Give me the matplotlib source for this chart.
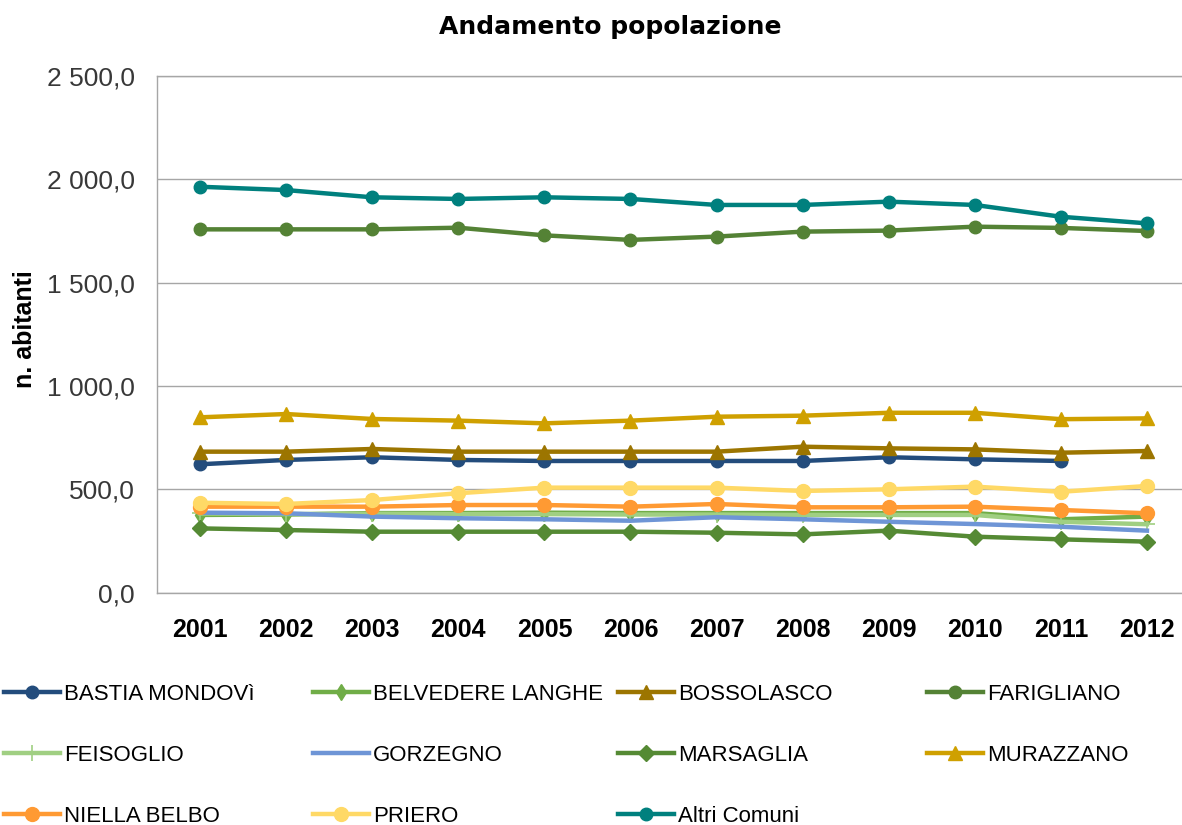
import numpy as np
import matplotlib
matplotlib.use("Agg")
import matplotlib.pyplot as plt

#----------------------------------------------------------
# Data
#----------------------------------------------------------
years = ["2001", "2002", "2003", "2004", "2005", "2006",
         "2007", "2008", "2009", "2010", "2011", "2012"]

bastia = [621, 642, 655, 642, 637, 637, 637, 637, 655, 645, 637, np.nan]
belvedere = [376, 378, 385, 385, 387, 385, 385, 385, 385, 385, 355, 368]
bossolasco = [682, 682, 695, 682, 682, 682, 682, 706, 698, 693, 677, 685]
farigliano = [1757, 1757, 1757, 1765, 1728, 1706, 1722, 1746, 1751, 1770, 1764, 1749]
feisoglio = [383, 380, 382, 380, 380, 378, 378, 376, 376, 376, 343, 331]
gorzegno = [387, 384, 368, 360, 355, 348, 365, 355, 343, 332, 319, 300]
marsaglia = [311, 303, 295, 295, 295, 295, 290, 282, 300, 271, 258, 247]
murazzano = [848, 864, 840, 832, 819, 832, 851, 856, 870, 870, 839, 843]
niella = [416, 416, 416, 424, 424, 416, 429, 413, 413, 416, 400, 384]
priero = [435, 429, 448, 481, 508, 508, 508, 492, 500, 513, 488, 516]
altri = [1963, 1947, 1912, 1904, 1912, 1904, 1875, 1875, 1891, 1875, 1818, 1786]

series_names = ["BASTIA MONDOVì", "BELVEDERE LANGHE", "BOSSOLASCO", "FARIGLIANO",
                "FEISOGLIO", "GORZEGNO", "MARSAGLIA", "MURAZZANO",
                "NIELLA BELBO", "PRIERO", "Altri Comuni"]
series_values = [bastia, belvedere, bossolasco, farigliano, feisoglio, gorzegno,
                 marsaglia, murazzano, niella, priero, altri]

y_ticks = [0, 500, 1000, 1500, 2000, 2500]
y_tick_labels = ["0,0", "500,0", "1 000,0", "1 500,0", "2 000,0", "2 500,0"]

#----------------------------------------------------------
# Styles
#----------------------------------------------------------
styles = {
    "BASTIA MONDOVì":   dict(color="#234C7C", marker="o", ms=9),
    "BELVEDERE LANGHE": dict(color="#70AD47", marker="d", ms=8),
    "BOSSOLASCO":       dict(color="#9C7500", marker="^", ms=10),
    "FARIGLIANO":       dict(color="#548235", marker="o", ms=9),
    "FEISOGLIO":        dict(color="#A0CF82", marker="+", ms=11),
    "GORZEGNO":         dict(color="#6E95D6", marker="", ms=0),
    "MARSAGLIA":        dict(color="#558A34", marker="D", ms=8),
    "MURAZZANO":        dict(color="#CFA000", marker="^", ms=10),
    "NIELLA BELBO":     dict(color="#FF9A33", marker="o", ms=10),
    "PRIERO":           dict(color="#FFD966", marker="o", ms=10),
    "Altri Comuni":     dict(color="#00807E", marker="o", ms=9),
}

plt.rcParams['font.family'] = ['Liberation Sans', 'DejaVu Sans']

W, H = 1182, 825
fig = plt.figure(figsize=(W / 100, H / 100), dpi=100)

ax = fig.add_axes([157 / W, 1 - 592.7 / H, 1033 / W, 517 / H])

x = np.arange(len(years))
handles = []
for name, vals in zip(series_names, series_values):
    st = styles[name]
    h, = ax.plot(x, vals, color=st["color"], lw=3.2, marker=st["marker"] or None,
                 markersize=st["ms"], markeredgewidth=1.2 if st["marker"] == "+" else 1,
                 markeredgecolor=st["color"], label=name, solid_joinstyle="round")
    handles.append(h)

ax.set_xlim(-0.5, len(years) - 0.5)
ax.set_ylim(0, 2500)
ax.set_yticks(y_ticks)
ax.set_yticklabels(y_tick_labels, fontsize=19, color="#383838")
ax.set_xticks(x)
ax.set_xticklabels(years, fontsize=18, fontweight="bold")
ax.tick_params(axis="both", length=0)
ax.tick_params(axis="y", pad=16)
ax.tick_params(axis="x", pad=18)

ax.grid(axis="y", color="#A6A6A6", lw=1.0)
ax.set_axisbelow(True)
for side in ["left", "top", "bottom"]:
    ax.spines[side].set_color("#A6A6A6")
    ax.spines[side].set_linewidth(1.0)
ax.spines["right"].set_visible(False)

fig.text(610 / W, 1 - 27 / H, "Andamento popolazione", ha="center", va="center",
         fontsize=18, fontweight="bold", family="DejaVu Sans")
fig.text(25 / W, 1 - 329 / H, "n. abitanti", ha="center", va="center",
         rotation=90, fontsize=18, fontweight="bold")

#----------------------------------------------------------
# Legend: 4 columns placed like the original
#----------------------------------------------------------
col_x = [4, 313, 618, 927]
for c in range(4):
    col_handles = handles[c::4]
    fig.legend(handles=col_handles, loc="upper left",
               bbox_to_anchor=(col_x[c] / W, 1 - 684 / H),
               frameon=False, handlelength=2.5,
               handletextpad=0.2, labelspacing=1.8, borderpad=0,
               borderaxespad=0, fontsize=16)

fig.savefig("out.png", dpi=100)
